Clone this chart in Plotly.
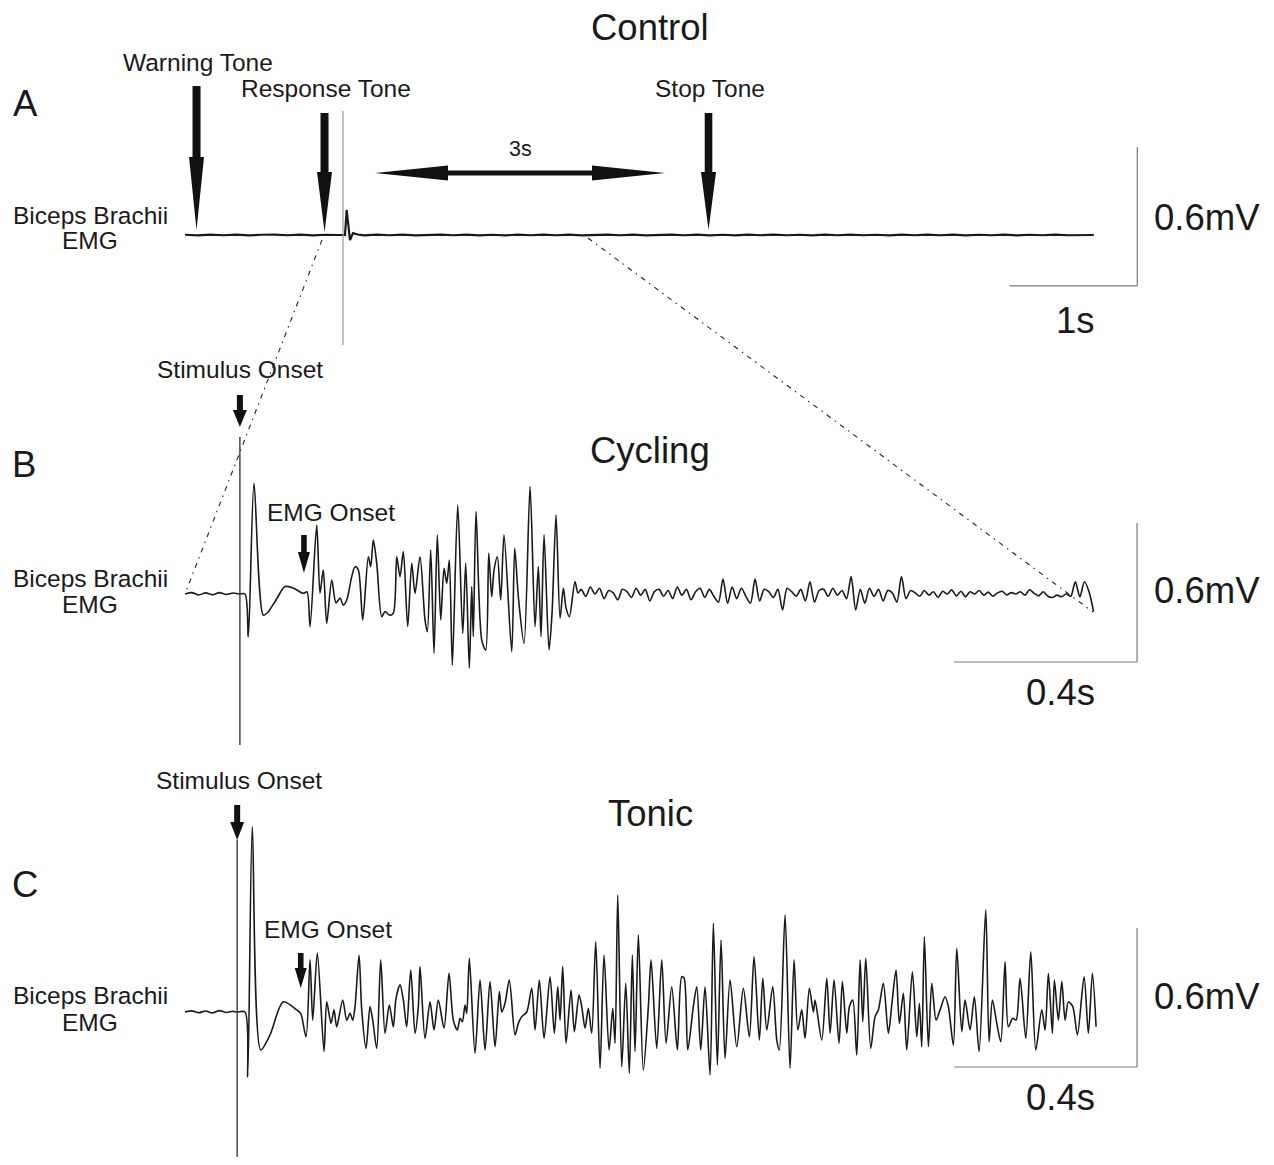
import numpy as np
import plotly.graph_objects as go

# reference canvas and the browser's default 8px body margin
W, H = 1274, 1165
OFF = 8
WF, HF = W - 2 * OFF, H - 2 * OFF

# ---------------- Panel A (Control) : time in s, amplitude in mV ----------------
A_pre_v = [0.001, -0.002, 0.002, -0.001, 0.002, -0.002, 0.001, 0.002, -0.001, 0.002, -0.002, 0.001, 0.0]
A_blip_t = [1.25, 1.263, 1.277, 1.289, 1.3125, 1.35]
A_blip_v = [0.0, 0.108, 0.03, -0.022, 0.008, 0.002]
A_post_v = [-0.002, 0.002, -0.001, 0.002, -0.002, 0.001, 0.002, -0.001, 0.002, -0.002,
            0.001, -0.002, 0.002, -0.001, 0.002, -0.001, 0.002, -0.002, 0.001, 0.002,
            -0.001, 0.002, -0.002, 0.001, 0.002, -0.001, 0.002, -0.002, 0.001, -0.002,
            0.002, -0.001, 0.002, -0.001, 0.001, -0.002, 0.002, -0.001, 0.002, -0.001,
            0.001, -0.002, 0.002, -0.001, 0.002, -0.001, 0.002, -0.002, 0.001, -0.001,
            0.002, -0.002, 0.001, -0.001, 0.002, -0.001, 0.001, 0.0]
A_pre_t = list(np.round(0.1 * np.arange(len(A_pre_v)), 3))
A_post_t = list(np.round(1.4 + 0.1 * np.arange(len(A_post_v)), 3))
A_artifact_t = 1.234
A_artifact_v = [0.535, -0.475]
tone_times_s = [0.09, 1.09, 4.09]   # warning, response, stop

# ---------------- Panel B (Cycling) : time in ms, amplitude in mV ----------------
B_pre_t = [0, 15, 30, 45, 60, 75, 90, 105, 118]
B_pre_v = [0.0, 0.006, -0.004, 0.005, -0.003, 0.006, -0.002, 0.004, 0.0]
B_burst_t = [131.2, 138.4, 150.8, 171.2, 181.4, 198.9, 218.6, 236.1, 258.6, 266.7,
             273.3, 287.9, 295.1, 302.3, 309.8, 320.7, 330.1, 338.8, 346.0, 353.5,
             364.4, 371.6, 378.8, 388.5, 400.7, 405.9, 411.6, 419.1, 430.0, 437.2,
             446.6, 455.3, 462.8, 470.0, 477.2, 486.8, 495.6, 502.8, 513.7, 524.6,
             529.7, 537.1, 544.3, 551.5, 559.0, 566.2, 572.1, 577.8, 584.3, 596.1,
             607.1, 613.6, 621.5, 626.7, 630.2, 636.1, 648.6, 657.3, 663.9, 670.4,
             675.5, 682.7, 690.1, 697.3, 714.2, 720.7, 728.6, 741.1, 754.2, 765.1,
             772.3, 778.2, 784.8, 795.7, 802.3, 811.0, 819.8, 827.0, 832.9, 840.1,
             852.5, 859.1]
B_burst_v = [0.0, -0.184, 0.478, -0.091, -0.078, -0.026, 0.032, 0.026, 0.003, 0.009,
             -0.141, 0.298, 0.003, 0.104, -0.127, 0.060, -0.039, -0.017, -0.048, -0.026,
             0.075, 0.118, 0.104, -0.112, 0.161, 0.118, 0.233, 0.133, -0.098, -0.076,
             -0.091, -0.083, 0.161, 0.075, 0.183, -0.141, 0.133, 0.003, 0.161, -0.112,
             -0.163, 0.190, -0.256, 0.255, -0.112, 0.111, 0.046, 0.147, -0.307, 0.384,
             -0.170, 0.133, -0.321, 0.032, -0.184, 0.356, -0.199, -0.242, 0.176, -0.012,
             0.104, 0.161, -0.026, 0.255, -0.249, 0.197, -0.012, -0.213, 0.464, -0.141,
             0.118, -0.184, 0.255, -0.242, -0.083, 0.341, -0.105, 0.025, -0.060, -0.098,
             0.053, 0.004]
B_tail_start_ms = 866
B_tail_step_ms = 10
B_tail_v = [0.02, -0.01, 0.03, 0.00, 0.025, -0.02, 0.015, 0.005, -0.025, 0.02,
            0.01, -0.015, 0.025, -0.005, 0.02, -0.03, 0.01, 0.02, -0.01, 0.015,
            -0.02, 0.03, -0.005, 0.02, -0.025, 0.01, 0.025, -0.015, 0.02, -0.01,
            -0.035, 0.064, -0.04, 0.03, -0.02, 0.025, -0.01, -0.04, 0.064, -0.03,
            0.02, 0.01, -0.015, 0.02, -0.069, 0.025, 0.01, -0.01, 0.02, -0.03,
            0.053, -0.035, 0.015, 0.02, -0.01, 0.025, -0.005, 0.015, -0.02, 0.075,
            -0.069, 0.02, -0.04, 0.025, -0.01, 0.02, -0.03, 0.015, 0.005, -0.035,
            0.075, -0.02, 0.015, 0.005, -0.01, 0.015, -0.005, 0.01, -0.015, 0.012,
            0.0, 0.018, -0.008, 0.012, -0.012, 0.01, 0.0, 0.015, -0.005, 0.008,
            -0.01, 0.005, 0.012, -0.004, 0.006, 0.0, 0.01, -0.005, 0.018, 0.003,
            -0.008, 0.01, -0.01, -0.015, -0.005, -0.012, 0.0, -0.01, 0.053, -0.012,
            0.053, 0.01, -0.076]
B_stim_ms = 120
B_artifact_v = [0.678, -0.652]
B_emg_onset_ms = 260

# ---------------- Panel C (Tonic) : time in ms, amplitude in mV ----------------
C_pre_t = [0, 15, 30, 45, 60, 75, 90, 105, 113]
C_pre_v = [0.0, 0.005, -0.003, 0.004, -0.004, 0.006, -0.002, 0.003, 0.0]
C_t = [131.2, 137.1, 147.1, 165.5, 185.8, 214.9, 244.2, 252.9, 264.5, 273.3,
       279.2, 289.2, 303.9, 309.8, 319.2, 325.7, 331.6, 344.7, 353.5, 360.7,
       366.6, 371.6, 380.4, 386.3, 395.7, 404.4, 410.3, 419.1, 427.8, 437.2,
       446.6, 455.3, 461.2, 470.0, 477.2, 484.6, 493.4, 502.8, 510.0, 513.7,
       524.6, 535.6, 544.3, 553.7, 566.2, 577.1, 586.5, 595.3, 601.2, 606.2,
       612.1, 615.8, 621.5, 633.9, 644.9, 655.8, 666.7, 677.7, 687.1, 692.3,
       699.5, 708.9, 721.4, 728.6, 736.0, 747.0, 757.9, 765.1, 774.5, 784.8,
       797.9, 807.3, 814.7, 819.8, 825.6, 832.9, 843.8, 851.0, 861.3, 867.2,
       874.4, 881.6, 889.0, 897.8, 907.2, 915.9, 926.9, 935.0, 940.0, 945.9,
       954.6, 963.4, 971.2, 977.8, 983.7, 990.9, 1001.8, 1012.8, 1018.7, 1031.1,
       1042.1, 1051.5, 1063.9, 1076.2, 1085.8, 1090.8, 1098.9, 1111.1, 1118.6, 1127.3,
       1136.7, 1147.7, 1154.9, 1163.6, 1171.7, 1180.4, 1191.4, 1206.0, 1220.4, 1233.6,
       1243.8, 1255.4, 1262.9, 1271.6, 1284.7, 1293.5, 1299.1, 1311.6, 1322.5, 1331.3,
       1339.4, 1348.1, 1355.3, 1364.7, 1373.5, 1377.2, 1391.8, 1402.8, 1410.0, 1418.7,
       1429.6, 1436.9, 1446.5, 1452.2, 1459.6, 1468.3, 1475.6, 1481.5, 1488.0, 1498.9,
       1508.3, 1515.6, 1526.5, 1537.4, 1544.8, 1554.2, 1561.5, 1570.2, 1577.6, 1589.9,
       1599.5, 1605.2, 1610.4, 1616.1, 1624.9, 1632.3, 1641.7, 1650.4, 1661.4, 1668.6,
       1679.5, 1686.9, 1697.9, 1705.1, 1716.0, 1725.4, 1735.7, 1750.3, 1757.5, 1764.8,
       1774.4, 1783.1, 1792.5, 1799.7, 1809.3, 1816.6, 1825.3, 1837.8, 1848.7, 1859.6,
       1872.7, 1880.0, 1887.2, 1895.9, 1900.3, 1909.0, 1916.5, 1923.7, 1930.9, 1940.5,
       1950.6, 1965.2, 1974.6, 1983.4, 1991.4]
C_v = [0.0, -0.280, 0.800, -0.164, -0.099, 0.044, 0.009, -0.006, -0.107, 0.225,
       -0.035, 0.254, -0.171, 0.044, -0.049, 0.009, -0.064, 0.052, -0.035, -0.006,
       -0.035, 0.023, 0.246, 0.009, -0.157, 0.023, -0.035, -0.157, 0.225, -0.092,
       0.030, -0.064, 0.059, 0.117, 0.052, -0.064, 0.181, -0.092, 0.023, 0.196,
       -0.114, 0.044, -0.078, 0.052, -0.070, 0.167, -0.035, -0.078, -0.027, -0.042,
       0.030, -0.006, 0.232, -0.178, 0.138, -0.164, 0.131, -0.150, 0.088, 0.0,
       0.038, 0.138, -0.099, -0.049, -0.020, 0.0, 0.102, -0.078, 0.138, -0.114,
       0.152, -0.092, 0.109, -0.035, 0.196, -0.135, 0.095, -0.085, 0.073, 0.023,
       -0.070, 0.016, -0.092, 0.304, -0.243, 0.246, -0.164, 0.016, -0.135, 0.505,
       -0.236, 0.124, -0.265, 0.246, -0.171, 0.333, -0.251, 0.023, 0.225, -0.157,
       0.225, -0.135, 0.109, -0.164, 0.152, 0.147, -0.164, 0.023, 0.109, -0.164,
       0.109, -0.272, 0.383, -0.229, 0.311, -0.200, 0.138, -0.150, 0.102, -0.107,
       0.239, -0.121, 0.146, -0.078, 0.109, -0.121, -0.164, 0.419, -0.243, 0.225,
       -0.078, 0.009, -0.114, 0.102, 0.0, 0.052, -0.121, 0.146, -0.092, 0.138,
       -0.135, 0.131, -0.092, 0.023, 0.052, -0.186, 0.225, -0.042, 0.232, -0.157,
       -0.020, 0.009, 0.124, -0.092, 0.030, 0.181, -0.049, 0.081, -0.164, 0.174,
       -0.107, 0.038, -0.150, 0.325, -0.150, 0.124, -0.035, 0.009, 0.066, 0.023,
       -0.143, 0.275, -0.085, 0.052, -0.078, 0.066, -0.171, 0.441, -0.128, 0.052,
       -0.049, -0.128, 0.217, -0.064, -0.027, -0.035, 0.146, -0.114, 0.260, -0.164,
       0.009, -0.078, 0.167, -0.092, 0.138, -0.035, 0.131, -0.035, 0.044, 0.023,
       -0.099, 0.152, -0.092, 0.167, -0.064]
C_stim_ms = 114
C_artifact_v = [0.743, -0.75]
C_emg_onset_ms = 253

# scale bars (end time, lower amplitude, length in time, length in mV)
scaleA = (7.44, -0.220, 1.0, 0.6)
scaleB = (2081.0, -0.2935, 400.0, 0.6)
scaleC = (2081.0, -0.2374, 400.0, 0.6)

# ---------------- build traces ----------------
TRACE = "#1a1a1a"
fig = go.Figure()

At = A_pre_t + A_blip_t + A_post_t
Av = A_pre_v + A_blip_v + A_post_v
fig.add_trace(go.Scatter(x=At, y=Av, mode="lines", line=dict(color=TRACE, width=2.2),
                         xaxis="x", yaxis="y"))
fig.add_trace(go.Scatter(x=[A_artifact_t, A_artifact_t], y=A_artifact_v, mode="lines",
                         line=dict(color="#9a9a9a", width=1.2), xaxis="x", yaxis="y"))

n = min(len(B_burst_t), len(B_burst_v))
B_tail_t = [B_tail_start_ms + B_tail_step_ms * i for i in range(len(B_tail_v))]
Bt = B_pre_t + B_burst_t[:n] + B_tail_t
Bv = B_pre_v + B_burst_v[:n] + B_tail_v
fig.add_trace(go.Scatter(x=Bt, y=Bv, mode="lines",
                         line=dict(color=TRACE, width=1.6, shape="spline", smoothing=0.8),
                         xaxis="x2", yaxis="y2"))
fig.add_trace(go.Scatter(x=[B_stim_ms, B_stim_ms], y=B_artifact_v, mode="lines",
                         line=dict(color="#3a3a3a", width=1.4), xaxis="x2", yaxis="y2"))

m = min(len(C_t), len(C_v))
Ct = C_pre_t + C_t[:m]
Cv = C_pre_v + C_v[:m]
fig.add_trace(go.Scatter(x=Ct, y=Cv, mode="lines",
                         line=dict(color=TRACE, width=1.6, shape="spline", smoothing=0.8),
                         xaxis="x3", yaxis="y3"))
fig.add_trace(go.Scatter(x=[C_stim_ms, C_stim_ms], y=C_artifact_v, mode="lines",
                         line=dict(color="#3a3a3a", width=1.4), xaxis="x3", yaxis="y3"))

# ---------------- axes (hidden); positions given in reference pixels ----------------
pxA = 128.0          # px per s
pxB = 183.0 / 400.0  # px per ms
mv_px = 0.6 / 139.0  # mV per px


def pdom(top, bottom):
    return [1 - (bottom - OFF) / HF, 1 - (top - OFF) / HF]


xr_left, xr_right = OFF, W - OFF
ax_common = dict(visible=False, showgrid=False, zeroline=False, fixedrange=True)
layout_axes = dict(
    xaxis=dict(domain=[0, 1], range=[(xr_left - 185) / pxA, (xr_right - 185) / pxA], anchor="y", **ax_common),
    yaxis=dict(domain=pdom(OFF, 380), range=[(235 - 380) * mv_px, (235 - OFF) * mv_px], anchor="x", **ax_common),
    xaxis2=dict(domain=[0, 1], range=[(xr_left - 185) / pxB, (xr_right - 185) / pxB], anchor="y2", **ax_common),
    yaxis2=dict(domain=pdom(380, 770), range=[(594 - 770) * mv_px, (594 - 380) * mv_px], anchor="x2", **ax_common),
    xaxis3=dict(domain=[0, 1], range=[(xr_left - 185) / pxB, (xr_right - 185) / pxB], anchor="y3", **ax_common),
    yaxis3=dict(domain=pdom(770, H - OFF), range=[(1012 - (H - OFF)) * mv_px, (1012 - 770) * mv_px],
                anchor="x3", **ax_common),
)

# ---------------- shapes ----------------
shapes = []


def X(p):
    return (p - OFF) / WF


def Y(p):
    return 1 - (p - OFF) / HF


def down_arrow(xref, yref, xa, tip, head_base, shaft_top, head_hw, shaft_hw):
    path = (f"M 0,{tip} L {-head_hw},{head_base} L {-shaft_hw},{head_base} "
            f"L {-shaft_hw},{shaft_top} L {shaft_hw},{shaft_top} L {shaft_hw},{head_base} "
            f"L {head_hw},{head_base} Z")
    return dict(type="path", xref=xref, yref=yref, xsizemode="pixel", ysizemode="pixel",
                xanchor=xa, yanchor=0, path=path, fillcolor="#111", line=dict(width=0))


# tone arrows in panel A
shapes.append(down_arrow("x", "y", tone_times_s[0], 5, 78, 149, 7.5, 4))
shapes.append(down_arrow("x", "y", tone_times_s[1], 3, 63, 122, 7.5, 4))
shapes.append(down_arrow("x", "y", tone_times_s[2], 5, 63, 122, 7.5, 3.8))
# stimulus / EMG onset arrows
shapes.append(down_arrow("x2", "y2", B_stim_ms, 167, 184, 199, 7, 3))
shapes.append(down_arrow("x2", "y2", B_emg_onset_ms, 21, 42, 59, 6, 2.8))
shapes.append(down_arrow("x3", "y3", C_stim_ms, 172, 190, 207, 7, 3))
shapes.append(down_arrow("x3", "y3", C_emg_onset_ms, 24, 44, 59, 6, 2.8))

# 3 s double arrow
pts = [(375, 173), (448, 165.5), (448, 170.5), (592, 170.5), (592, 165.5), (665, 173),
       (592, 180.5), (592, 175.5), (448, 175.5), (448, 180.5)]
path = "M " + " L ".join(f"{X(a):.5f},{Y(b):.5f}" for a, b in pts) + " Z"
shapes.append(dict(type="path", xref="paper", yref="paper", path=path,
                   fillcolor="#111", line=dict(width=0)))

# zoom (dash-dot) lines
for (x0, y0, x1, y1) in [(322, 240, 185, 594), (588, 238, 1093, 612)]:
    shapes.append(dict(type="line", xref="paper", yref="paper", x0=X(x0), y0=Y(y0), x1=X(x1), y1=Y(y1),
                       line=dict(color="#222", width=1.1, dash="5px,5px,1.5px,5px")))

# scale bars
SB = "#7a7a7a"
for (xr, yr, sc) in [("x", "y", scaleA), ("x2", "y2", scaleB), ("x3", "y3", scaleC)]:
    t_end, v_low, dt, dv = sc
    shapes.append(dict(type="line", xref=xr, yref=yr, x0=t_end, x1=t_end, y0=v_low, y1=v_low + dv,
                       line=dict(color=SB, width=1.2)))
    shapes.append(dict(type="line", xref=xr, yref=yr, x0=t_end - dt, x1=t_end, y0=v_low, y1=v_low,
                       line=dict(color=SB, width=1.2)))

# ---------------- text ----------------
FONT = "Arial, Liberation Sans, sans-serif"
TXT = "#1a1a1a"
SM, BG = 24.5, 36.5
labels = [
    ("Control", 650, 27, BG), ("A", 25, 103, BG),
    ("Warning Tone", 198, 63, SM), ("Response Tone", 326, 88, SM), ("Stop Tone", 710, 88, SM),
    ("3s", 520, 149, 21.5),
    ("Biceps Brachii", 90, 215, SM), ("EMG", 90, 241, SM),
    ("0.6mV", 1207, 217, BG), ("1s", 1075, 320, BG),
    ("Stimulus Onset", 240, 370, SM), ("B", 24, 465, BG), ("Cycling", 650, 451, BG),
    ("EMG Onset", 331, 513, SM),
    ("Biceps Brachii", 90, 578, SM), ("EMG", 90, 604, SM),
    ("0.6mV", 1207, 590, BG), ("0.4s", 1060, 692, BG),
    ("Stimulus Onset", 239, 780, SM), ("Tonic", 650, 813, BG), ("C", 25, 884, BG),
    ("EMG Onset", 328, 929, SM),
    ("Biceps Brachii", 90, 995, SM), ("EMG", 90, 1022, SM),
    ("0.6mV", 1207, 996, BG), ("0.4s", 1060, 1097, BG),
]
annotations = [dict(text=t, x=X(x), y=Y(y), xref="paper", yref="paper", showarrow=False,
                    xanchor="center", yanchor="middle", font=dict(family=FONT, size=s, color=TXT))
               for (t, x, y, s) in labels]

fig.update_layout(
    width=WF, height=HF, autosize=False,
    margin=dict(l=0, r=0, t=0, b=0, pad=0),
    paper_bgcolor="white", plot_bgcolor="white",
    showlegend=False, shapes=shapes, annotations=annotations,
    **layout_axes,
)

fig.write_html("out.html")
